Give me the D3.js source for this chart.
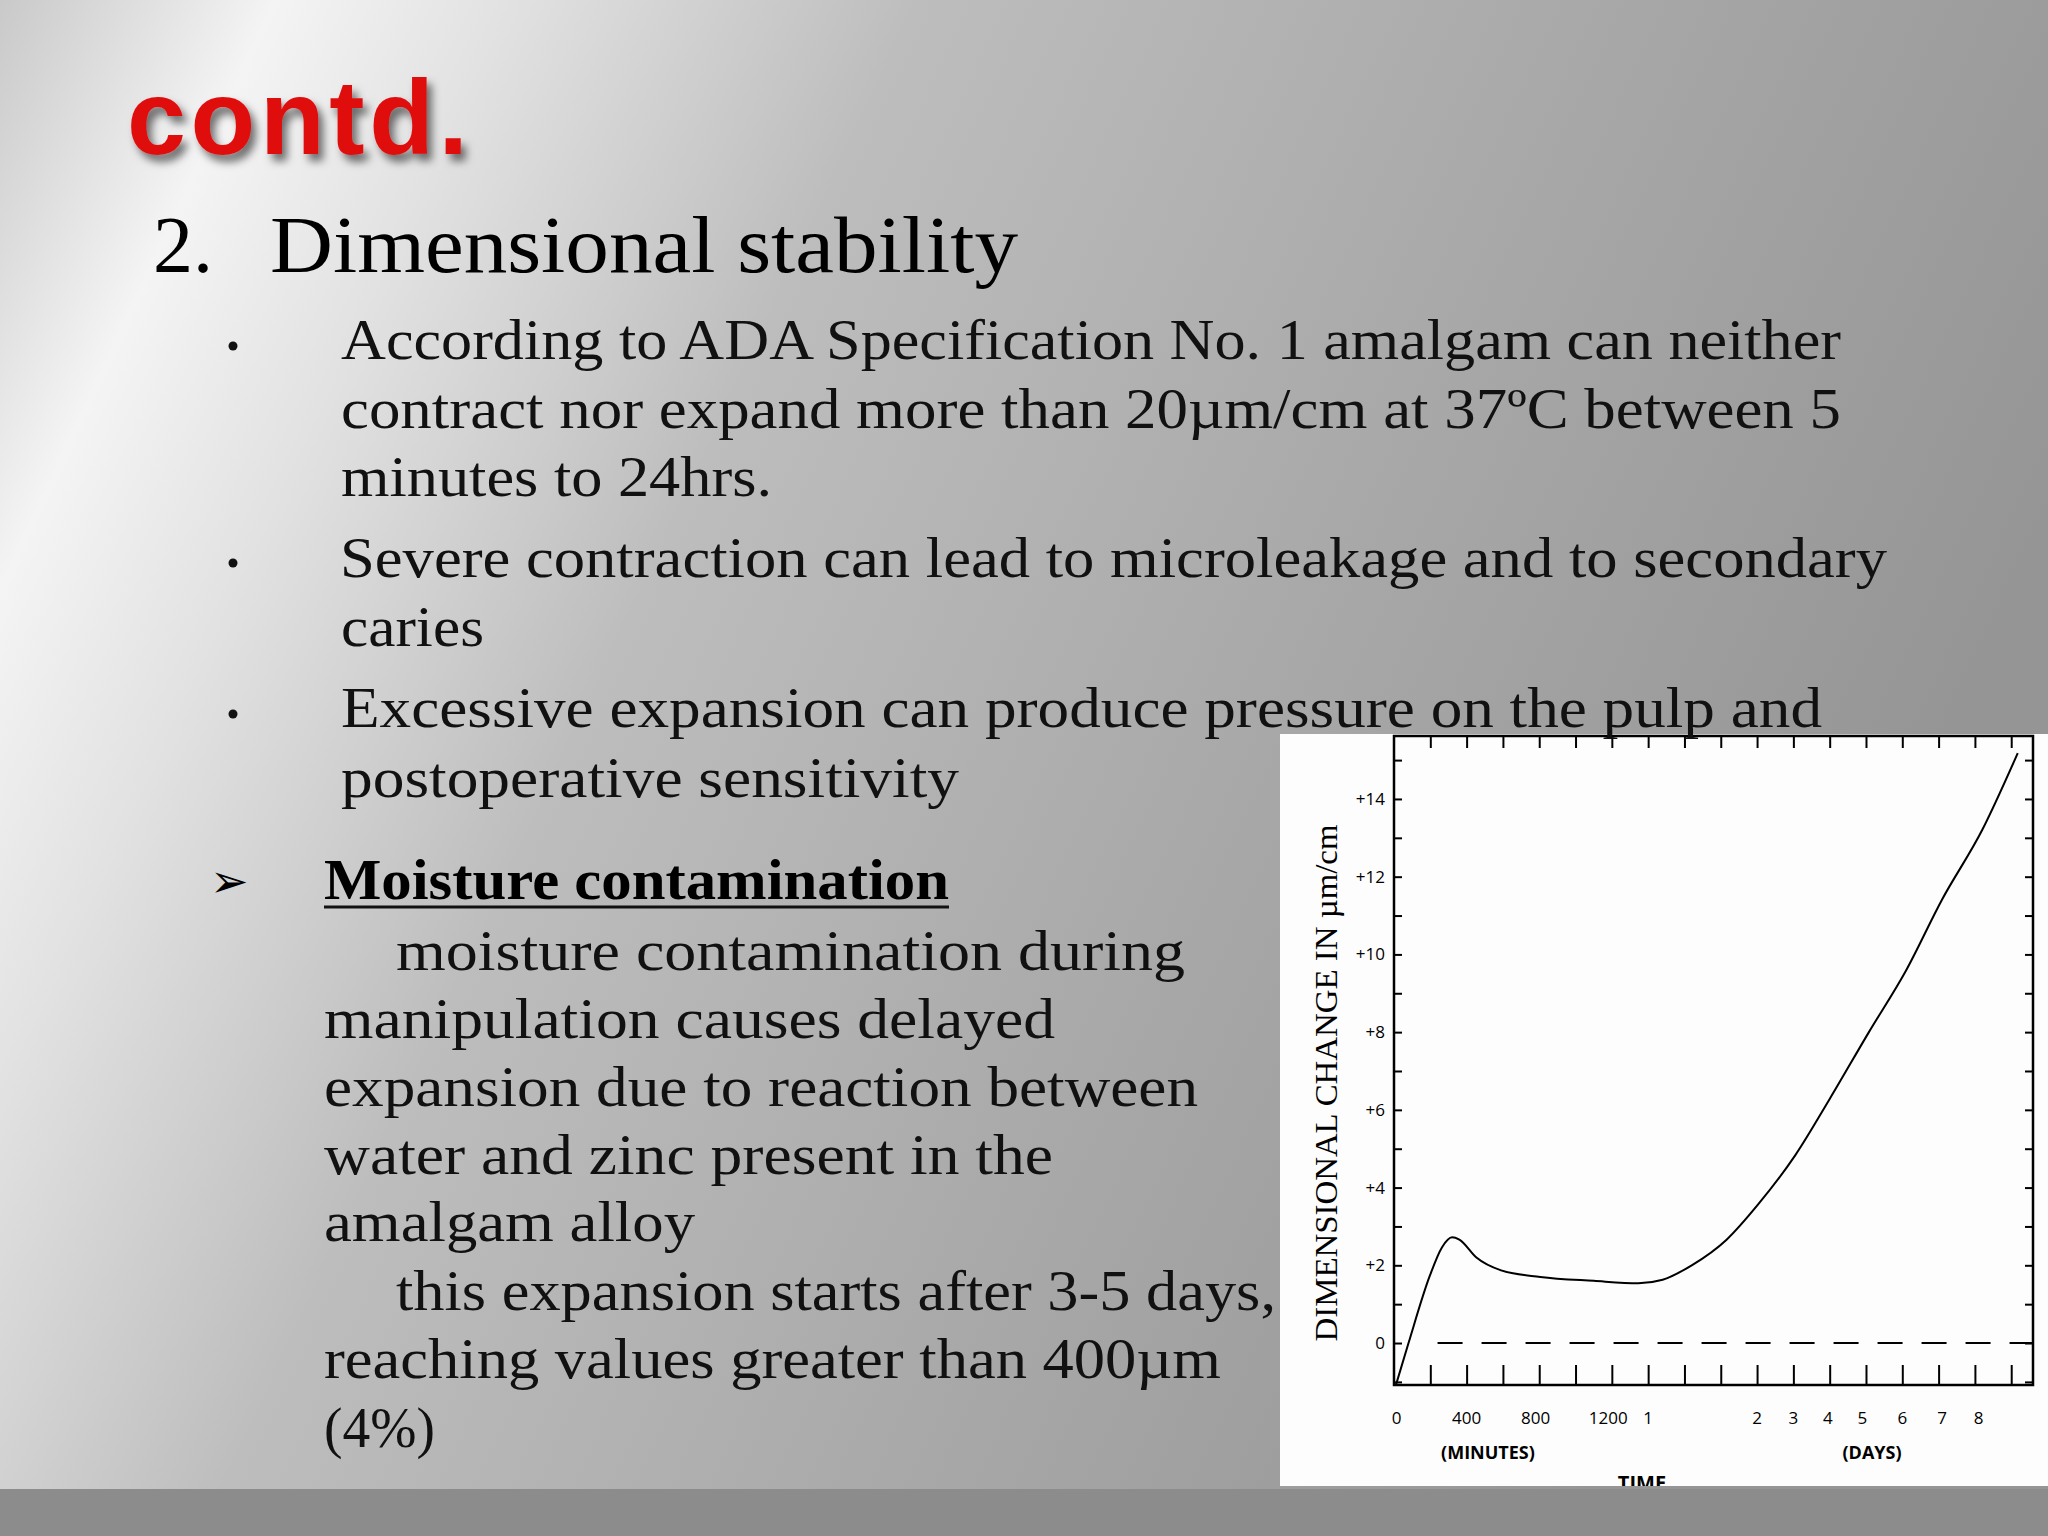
<!DOCTYPE html>
<html><head><meta charset="utf-8">
<script src="https://cdn.jsdelivr.net/npm/d3@7"></script>
<style>body{margin:0;overflow:hidden}</style>
</head><body>
<svg id="s" width="2048" height="1536"></svg>
<script>
// curve: x is position along the time axis (tick units), y in µm/cm
var posX = [0.05,0.4,0.99,1.32,1.6,1.8,2.27,2.95,4.03,5.5,6.73,7.4,8.2,9.16,10.04,11.05,12.0,13.08,14.1,15.1,16.2,17.18];
var change = [-1.09,0,1.74,2.46,2.72,2.66,2.2,1.87,1.7,1.6,1.54,1.63,2.0,2.66,3.58,4.83,6.28,8.0,9.58,11.42,13.2,15.18];
var xLabels = ["0","400","800","1200","1","2","3","4","5","6","7","8"];
var xLabelPos = [0.07,2.0,3.9,5.9,7.0,10.0,11.0,11.95,12.9,14.0,15.1,16.1];
var yLabels = ["0","+2","+4","+6","+8","+10","+12","+14"];
var yLabelVal = [0,2,4,6,8,10,12,14];

var svg = d3.select("#s");
var defs = svg.append("defs");
var g1 = defs.append("linearGradient").attr("id","bg").attr("x1","0").attr("y1","0").attr("x2","1").attr("y2","0.35");
[["0%","#c9c9c9"],["12%","#f4f4f4"],["22%","#e2e2e2"],["40%","#bdbdbd"],["70%","#a8a8a8"],["100%","#959595"]]
  .forEach(function(s){ g1.append("stop").attr("offset",s[0]).attr("stop-color",s[1]); });
var sh = defs.append("filter").attr("id","sh").attr("x","-10%").attr("y","-10%").attr("width","130%").attr("height","140%");
sh.append("feDropShadow").attr("dx",5).attr("dy",7).attr("stdDeviation",4).attr("flood-color","#000").attr("flood-opacity",0.55);

svg.append("rect").attr("width",2048).attr("height",1536).attr("fill","url(#bg)");
svg.append("rect").attr("y",1489).attr("width",2048).attr("height",47).attr("fill","#8c8c8c");

svg.append("text").attr("x",127).attr("y",154).attr("font-family","Liberation Sans, Arial").attr("font-weight","bold")
  .attr("font-size",106).attr("fill","#e01010").attr("filter","url(#sh)")
  .attr("textLength",341).attr("lengthAdjust","spacing").text("contd.");

var serif = "Liberation Serif, serif";
svg.append("text").attr("x",153).attr("y",272).attr("font-family",serif).attr("font-size",80).text("2.");
svg.append("text").attr("x",270).attr("y",272).attr("font-family",serif).attr("font-size",80)
  .attr("textLength",748).attr("lengthAdjust","spacingAndGlyphs").text("Dimensional stability");

// chart panel
var box = {x:1280,y:734,w:768,h:752};
svg.append("rect").attr("x",box.x).attr("y",box.y).attr("width",box.w).attr("height",box.h).attr("fill","#fdfdfd");
defs.append("clipPath").attr("id","bc").append("rect").attr("x",box.x).attr("y",box.y).attr("width",box.w).attr("height",box.h);
var ch = svg.append("g").attr("clip-path","url(#bc)");

var L=1394,R=2033,T=736,B=1385;
var x = d3.scaleLinear().domain([0,17.6]).range([L,R]);
var y = d3.scaleLinear().domain([-1.08,15.62]).range([B,T]);
var sans = "Open Sans, Liberation Sans, sans-serif";

var xt = d3.range(1,18), yt = d3.range(-1,16);
ch.append("g").attr("transform","translate(0,"+B+")").call(d3.axisBottom(x).tickValues(xt).tickSize(-20).tickFormat(""));
ch.append("g").attr("transform","translate(0,"+T+")").call(d3.axisTop(x).tickValues(xt).tickSize(-12).tickFormat(""));
ch.append("g").attr("transform","translate("+L+",0)").call(d3.axisLeft(y).tickValues(yt).tickSize(-8).tickFormat(""));
ch.append("g").attr("transform","translate("+R+",0)").call(d3.axisRight(y).tickValues(yt).tickSize(-8).tickFormat(""));
ch.selectAll(".domain").remove();
ch.selectAll(".tick line").attr("stroke","#000").attr("stroke-width",2);
ch.append("rect").attr("x",L).attr("y",T).attr("width",R-L).attr("height",B-T).attr("fill","none").attr("stroke","#000").attr("stroke-width",2.5);

ch.append("line").attr("x1",x(1.2)).attr("x2",R).attr("y1",y(0)).attr("y2",y(0))
  .attr("stroke","#000").attr("stroke-width",2).attr("stroke-dasharray","25,19");

var pts = posX.map(function(v,i){return [v,change[i]];});
ch.append("path").attr("d",d3.line().x(function(d){return x(d[0]);}).y(function(d){return y(d[1]);}).curve(d3.curveMonotoneX)(pts))
  .attr("fill","none").attr("stroke","#000").attr("stroke-width",2);

ch.selectAll(".yl").data(yLabels).enter().append("text").attr("x",L-9).attr("y",function(d,i){return y(yLabelVal[i])+6;})
  .attr("text-anchor","end").attr("font-family",sans).attr("font-size",17).text(function(d){return d;});
ch.selectAll(".xl").data(xLabels).enter().append("text").attr("x",function(d,i){return x(xLabelPos[i]);}).attr("y",1424)
  .attr("text-anchor","middle").attr("font-family",sans).attr("font-size",17).text(function(d){return d;});
ch.append("text").attr("x",1488).attr("y",1459).attr("text-anchor","middle").attr("font-family",sans).attr("font-weight","bold").attr("font-size",18).text("(MINUTES)");
ch.append("text").attr("x",1872).attr("y",1459).attr("text-anchor","middle").attr("font-family",sans).attr("font-weight","bold").attr("font-size",18).text("(DAYS)");
ch.append("text").attr("x",1642).attr("y",1490).attr("text-anchor","middle").attr("font-family",sans).attr("font-weight","bold").attr("font-size",20).text("TIME");
ch.append("text").attr("transform","translate(1337,1083) rotate(-90)").attr("text-anchor","middle").attr("font-family",serif)
  .attr("font-size",31).attr("textLength",517).attr("lengthAdjust","spacingAndGlyphs").text("DIMENSIONAL  CHANGE IN µm/cm");

// slide text
var lines = [
  [341,359,1841,"According to ADA Specification No. 1 amalgam can neither"],
  [341,428,1841,"contract nor expand more than 20µm/cm at 37ºC between 5"],
  [341,496,772,"minutes to 24hrs."],
  [340,577,1887,"Severe contraction can lead to microleakage and to secondary"],
  [341,646,484,"caries"],
  [341,727,1822,"Excessive expansion can produce pressure on the pulp and"],
  [341,797,959,"postoperative sensitivity"],
  [396,970,1185,"moisture contamination during"],
  [324,1038,1055,"manipulation causes delayed"],
  [324,1106,1198,"expansion due to reaction between"],
  [324,1174,1053,"water and zinc present in the"],
  [324,1241,695,"amalgam alloy"],
  [396,1310,1276,"this expansion starts after 3-5 days,"],
  [324,1378,1221,"reaching values greater than 400µm"],
  [324,1447,435,"(4%)"]
];
svg.selectAll(".ln").data(lines).enter().append("text").attr("x",function(d){return d[0];}).attr("y",function(d){return d[1];})
  .attr("font-family",serif).attr("font-size",58).attr("fill","#111")
  .attr("textLength",function(d){return d[2]-d[0];}).attr("lengthAdjust","spacingAndGlyphs").text(function(d){return d[3];});
[346,563,714].forEach(function(yy){
  svg.append("circle").attr("cx",233).attr("cy",yy).attr("r",4.5).attr("fill","#111");
});
svg.append("text").attr("x",210).attr("y",897).attr("font-family","DejaVu Sans").attr("font-size",46).text("➢");
svg.append("text").attr("x",324).attr("y",899).attr("font-family",serif).attr("font-weight","bold").attr("font-size",58)
  .attr("textLength",625).attr("lengthAdjust","spacingAndGlyphs").text("Moisture contamination");
svg.append("line").attr("x1",324).attr("x2",949).attr("y1",907).attr("y2",907).attr("stroke","#111").attr("stroke-width",3);
</script>
</body></html>
